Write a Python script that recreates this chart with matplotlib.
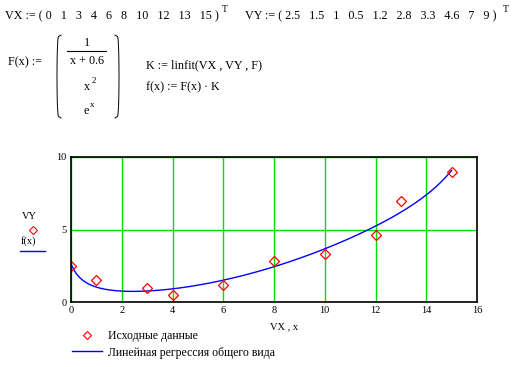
import numpy as np
import matplotlib.pyplot as plt
from matplotlib.lines import Line2D

# data (Mathcad worksheet)
VX = np.array([0, 1, 3, 4, 6, 8, 10, 12, 13, 15])
VY = np.array([2.5, 1.5, 1, 0.5, 1.2, 2.8, 3.3, 4.6, 7, 9])
x_ticks = [0, 2, 4, 6, 8, 10, 12, 14, 16]
y_ticks = [0, 5, 10]
legend_labels = ["Исходные данные", "Линейная регрессия общего вида"]

# linfit with F(x) = (1/(x+0.6), x^2, e^x)
def F(x):
    return np.column_stack([1 / (x + 0.6), x ** 2, np.exp(x)])

K = np.linalg.lstsq(F(VX.astype(float)), VY, rcond=None)[0]
xs = np.linspace(0, 15, 300)
fx = F(xs) @ K

W, H = 513, 367
fig = plt.figure(figsize=(W / 100, H / 100), dpi=100)
plt.rcParams['font.family'] = ['Liberation Serif', 'DejaVu Serif']

def px(x, y):
    return x / W, 1 - y / H

def txt(x, y, s, size=8.7, **kw):
    fig.text(*px(x, y), s, fontsize=size, va='baseline', ha=kw.pop('ha', 'left'), **kw)

# --------------------------
# worksheet text
# --------------------------
txt(5, 19, "VX := ( 0   1   3   4   6   8   10   12   13   15 )")
txt(222, 12, "T", size=7)
txt(245, 19, "VY := ( 2.5   1.5   1   0.5   1.2   2.8   3.3   4.6   7   9 )")
txt(503, 12, "T", size=7)

txt(8, 65, "F(x) :=")
txt(87, 46, "1", ha='center')
fig.add_artist(Line2D([67 / W, 106 / W], [1 - 51 / H] * 2, color='black', lw=0.8))
txt(87, 64, "x + 0.6", ha='center')
txt(87, 90, "x", ha='center')
txt(92, 83, "2", size=6.5)
txt(86, 114, "e", ha='center')
txt(90, 107, "x", size=6.5)

# matrix brackets
t = np.linspace(0, 1, 50)
for xb, sgn in [(57, 1), (119, -1)]:
    bx = xb + sgn * 4 * (1 - np.sin(np.pi * t) ** 0.15)
    by = 35 + t * 83
    fig.add_artist(Line2D(bx / W, 1 - by / H, color='black', lw=0.7))

txt(146, 68, "K := linfit(VX , VY , F)")
txt(146, 90, "f(x) := F(x) · K")

# --------------------------
# plot
# --------------------------
ax = fig.add_axes([71 / W, 1 - 302 / H, (477 - 71) / W, (302 - 157) / H])
ax.plot(xs, fx, color='#0000ff', lw=1.0)
ax.plot(VX, VY, ls='none', marker='D', ms=5, mfc='none', mec='#ff0000', mew=0.9)
ax.set_xlim(0, 16)
ax.set_ylim(0, 10)
ax.set_xticks(x_ticks)
ax.set_yticks(y_ticks)
ax.grid(True, color='#00e000', lw=1.0)
ax.tick_params(length=0, labelsize=7.5, pad=3)
for s in ax.spines.values():
    s.set_linewidth(1.2)

# axis labels (Mathcad style)
txt(22, 219, "VY", size=7.5)
fig.add_artist(Line2D([33 / W], [1 - 230 / H], marker='D', ms=4.5, mfc='none', mec='#ff0000', mew=0.8))
txt(21, 244, "f(x)", size=7.5)
fig.add_artist(Line2D([20 / W, 45 / W], [1 - 251 / H] * 2, color='#0000ff', lw=1))
txt(270, 329, "VX , x", size=7.5)

# legend
fig.add_artist(Line2D([87 / W], [1 - 335 / H], marker='D', ms=4.5, mfc='none', mec='#ff0000', mew=0.8))
txt(108, 339, legend_labels[0], size=8.5)
fig.add_artist(Line2D([72 / W, 102 / W], [1 - 351 / H] * 2, color='#0000ff', lw=1))
txt(108, 356, legend_labels[1], size=8.5)

plt.savefig("out.png", dpi=100)
plt.close()
